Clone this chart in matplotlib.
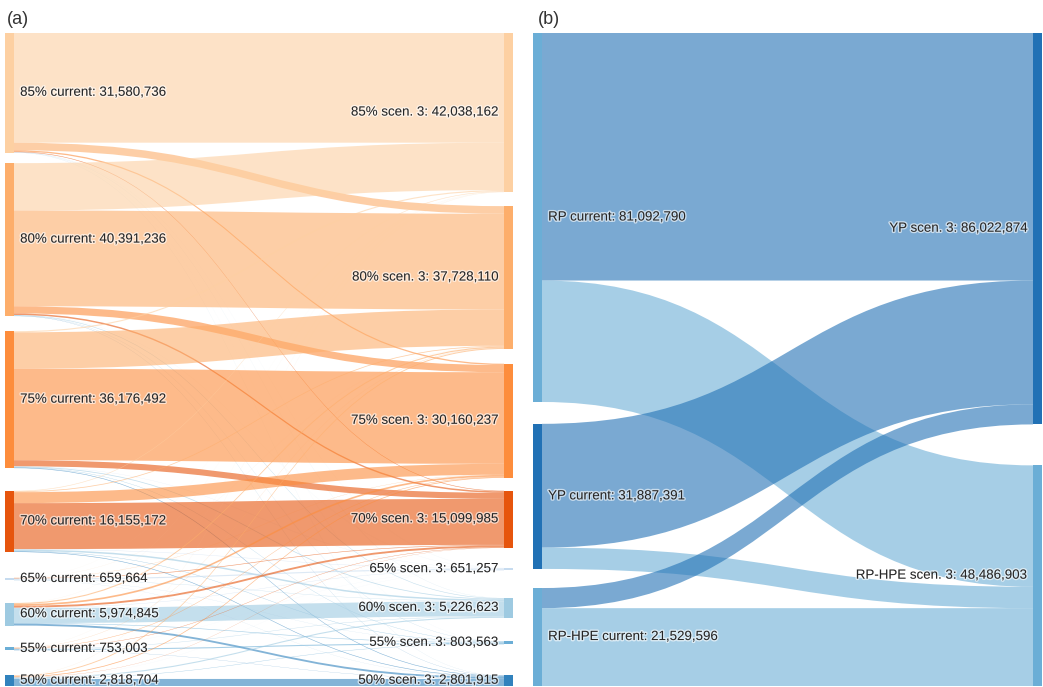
import numpy as np
import matplotlib
matplotlib.use("Agg")
import matplotlib.pyplot as plt
import matplotlib.patheffects as pe
from matplotlib.path import Path
from matplotlib.patches import PathPatch, Rectangle
from matplotlib.colors import to_rgba

plt.rcParams["font.family"] = ["Liberation Sans Narrow", "Liberation Sans", "DejaVu Sans"]

# (a) suitability classes, current -> scenario 3
levels = ["85%", "80%", "75%", "70%", "65%", "60%", "55%", "50%"]
level_colors = ["#fdd0a2", "#fdae6b", "#fd8d3c", "#e6550d",
                "#c6dbef", "#9ecae1", "#6baed6", "#3182bd"]
# rows: current class, columns: scenario 3 class
level_flows = [
    [28977365, 2000000, 350000, 150000, 31593, 41778, 10000, 20000],
    [12513126, 25298110, 1900000, 400000, 30000, 150000, 50000, 50000],
    [306255, 9600000, 24190237, 1600000, 50000, 200000, 80000, 150000],
    [155187, 200000, 2900000, 12149985, 100000, 400000, 100000, 150000],
    [10000, 20000, 50000, 150000, 299664, 80000, 30000, 20000],
    [20000, 300000, 450000, 500000, 100000, 3954845, 150000, 500000],
    [19440, 60000, 120000, 100000, 20000, 100000, 283563, 50000],
    [36789, 250000, 200000, 50000, 20000, 300000, 100000, 1861915],
]

# (b) protection classes, current -> scenario 3
prot_src = ["RP", "YP", "RP-HPE"]
prot_tgt = ["YP", "RP-HPE"]
prot_src_colors = ["#6baed6", "#2171b5", "#6baed6"]
prot_tgt_colors = ["#2171b5", "#6baed6"]
prot_flows = [
    [54400000, 26692790],
    [27200000, 4687391],
    [4422874, 17106722],
]

# spacing between nodes, in millions
gaps_a_src = [2.8, 4.0, 6.0, 6.8, 6.0, 5.8, 6.6]
gaps_a_tgt = [3.7, 3.9, 3.4, 5.3, 7.3, 6.2, 8.2]
gaps_b_src = [4.8, 4.2]
gaps_b_tgt = [9.0]

TEXT = "#262626"
halo = [pe.withStroke(linewidth=2, foreground="white", alpha=0.6)]


def sankey(ax, flows, src_names, tgt_names, src_colors, tgt_colors,
           src_gaps, tgt_gaps, node_w, alpha):
    flows_int = np.array(flows, dtype=np.int64)
    f = flows_int / 1e6
    src_tot, tgt_tot = f.sum(1), f.sum(0)
    src_top = np.concatenate([[0], np.cumsum(src_tot[:-1] + np.array(src_gaps))])
    tgt_top = np.concatenate([[0], np.cumsum(tgt_tot[:-1] + np.array(tgt_gaps))])
    span = max(src_top[-1] + src_tot[-1], tgt_top[-1] + tgt_tot[-1])

    x0, x1 = node_w, 1 - node_w
    xm = (x0 + x1) / 2
    codes = [Path.MOVETO, Path.CURVE4, Path.CURVE4, Path.CURVE4, Path.LINETO,
             Path.CURVE4, Path.CURVE4, Path.CURVE4, Path.CLOSEPOLY]
    for i in range(f.shape[0]):
        for j in range(f.shape[1]):
            v = f[i, j]
            if v <= 0:
                continue
            s = src_top[i] + f[i, :j].sum()
            t = tgt_top[j] + f[:i, j].sum()
            verts = [(x0, s), (xm, s), (xm, t), (x1, t), (x1, t + v),
                     (xm, t + v), (xm, s + v), (x0, s + v), (x0, s)]
            ax.add_patch(PathPatch(Path(verts, codes), lw=0,
                                   fc=to_rgba(tgt_colors[j], alpha)))

    for i, name in enumerate(src_names):
        ax.add_patch(Rectangle((0, src_top[i]), node_w, src_tot[i],
                               fc=src_colors[i], lw=0))
        ax.text(x0 + 0.012, src_top[i] + src_tot[i] / 2,
                f"{name} current: {flows_int[i].sum():,}", ha="left",
                va="center", fontsize=9.6, color=TEXT, path_effects=halo)
    for j, name in enumerate(tgt_names):
        ax.add_patch(Rectangle((x1, tgt_top[j]), node_w, tgt_tot[j],
                               fc=tgt_colors[j], lw=0))
        ax.text(x1 - 0.009, tgt_top[j] + tgt_tot[j] / 2,
                f"{name} scen. 3: {flows_int[:, j].sum():,}", ha="right",
                va="center", fontsize=9.6, color=TEXT, path_effects=halo)

    ax.set_xlim(0, 1)
    ax.set_ylim(span, 0)
    ax.axis("off")


W, H = 1043, 687
fig = plt.figure(figsize=(W / 100, H / 100), dpi=100)

ax_a = fig.add_axes([5 / W, 1 - 686 / H, 508 / W, 653 / H])
sankey(ax_a, level_flows, levels, levels, level_colors, level_colors,
       gaps_a_src, gaps_a_tgt, 9 / 508, 0.6)

ax_b = fig.add_axes([533 / W, 1 - 686 / H, 509 / W, 653 / H])
sankey(ax_b, prot_flows, prot_src, prot_tgt, prot_src_colors, prot_tgt_colors,
       gaps_b_src, gaps_b_tgt, 9 / 509, 0.6)

fig.text(7 / W, 1 - 19 / H, "(a)", fontsize=13, color="#333333",
         ha="left", va="center", family="Liberation Sans")
fig.text(538 / W, 1 - 19 / H, "(b)", fontsize=13, color="#333333",
         ha="left", va="center", family="Liberation Sans")

fig.savefig("out.png", dpi=100)
